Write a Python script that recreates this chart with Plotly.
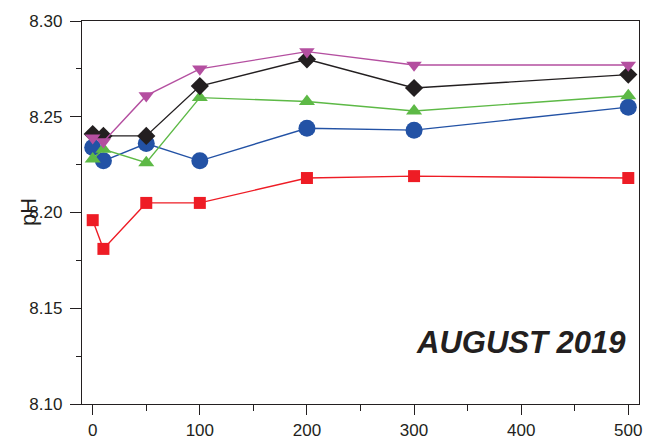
import plotly.graph_objects as go

depth = [0, 10, 50, 100, 200, 300, 500]

ph_red = [8.196, 8.181, 8.205, 8.205, 8.218, 8.219, 8.218]
ph_blue = [8.234, 8.227, 8.236, 8.227, 8.244, 8.243, 8.255]
ph_green = [8.228, 8.233, 8.226, 8.260, 8.258, 8.253, 8.261]
ph_black = [8.241, 8.240, 8.240, 8.266, 8.280, 8.265, 8.272]
ph_magenta = [8.239, 8.237, 8.261, 8.275, 8.284, 8.277, 8.277]

x_ticks = [0, 100, 200, 300, 400, 500]
y_ticks = [8.10, 8.15, 8.20, 8.25, 8.30]
y_tick_labels = ["8.10", "8.15", "8.20", "8.25", "8.30"]

series = [
    (ph_red, "#EE1C25", "square", 12),
    (ph_blue, "#2352A5", "circle", 17),
    (ph_green, "#5DB946", "triangle-up", 14),
    (ph_black, "#231F20", "diamond", 14),
    (ph_magenta, "#B44FA0", "triangle-down", 13.5),
]

fig = go.Figure()
for vals, col, sym, sz in series:
    fig.add_trace(go.Scatter(
        x=depth, y=vals, mode="lines+markers",
        line=dict(color=col, width=1.4),
        marker=dict(symbol=sym, size=sz, color=col, line=dict(width=0)),
        showlegend=False,
    ))

axis_col = "#231F20"
font_fam = "Liberation Sans, Arial, sans-serif"

fig.update_layout(
    width=658, height=439,
    margin=dict(l=82, r=19, t=21, b=35),
    paper_bgcolor="white", plot_bgcolor="white",
    font=dict(family=font_fam, color=axis_col, size=17),
    xaxis=dict(
        range=[-10, 510], tickvals=x_ticks, ticktext=[str(v) for v in x_ticks],
        showgrid=False, zeroline=False, automargin=False,
        showline=True, linecolor=axis_col, linewidth=1.4, mirror=True,
        ticks="outside", ticklen=10, tickwidth=1.3, tickcolor=axis_col,
        minor=dict(tickvals=[50, 150, 250, 350, 450], ticks="outside", ticklen=6,
                   tickwidth=1.3, tickcolor=axis_col, showgrid=False),
        tickfont=dict(size=17),
    ),
    yaxis=dict(
        range=[8.10, 8.30], tickvals=y_ticks, ticktext=y_tick_labels,
        showgrid=False, zeroline=False, automargin=False,
        showline=True, linecolor=axis_col, linewidth=1.4, mirror=True,
        ticks="outside", ticklen=11, tickwidth=1.3, tickcolor=axis_col,
        minor=dict(tickvals=[8.125, 8.175, 8.225, 8.275], ticks="outside", ticklen=5,
                   tickwidth=1.3, tickcolor=axis_col, showgrid=False),
        tickfont=dict(size=17),
        ticklabelstandoff=4,
    ),
    annotations=[
        dict(text="<b><i>AUGUST 2019</i></b>", xref="paper", yref="paper",
             x=(521 - 82) / 557, y=(404 - 342) / 383, xanchor="center", yanchor="middle",
             showarrow=False, font=dict(size=31, color=axis_col, family=font_fam)),
        dict(text="pH", xref="paper", yref="paper", x=0, y=(404 - 212) / 383,
             xshift=-54, xanchor="center", yanchor="middle", textangle=-90,
             showarrow=False, font=dict(size=22, color=axis_col, family=font_fam)),
    ],
)

fig.write_html("out.html", config={"displayModeBar": False},
               post_script="document.body.style.margin='0';document.body.style.padding='0';")
